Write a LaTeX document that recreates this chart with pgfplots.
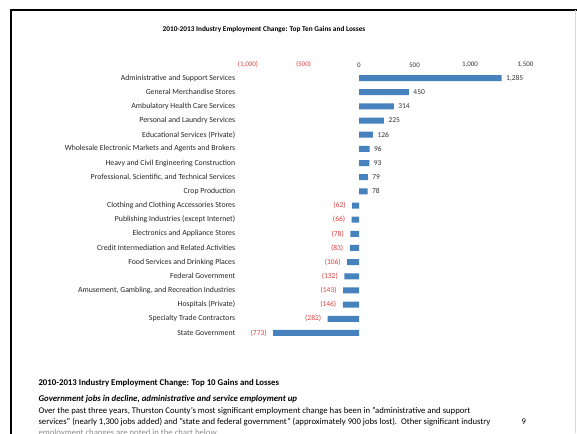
\documentclass[border=0pt]{standalone}
\usepackage{pgfplots}
\pgfplotsset{compat=1.18}
\usepackage{fontspec}
\setmainfont{Carlito}
\definecolor{barblue}{RGB}{70,130,190}
\definecolor{negred}{RGB}{222,64,64}
\begin{document}
\begin{tikzpicture}[x=1pt,y=1pt]
\clip (0,0) rectangle (577,433);
\fill[white] (0,0) rectangle (577,433);
\draw[line width=2pt] (11,-2) -- (11,423) -- (580,423);
\draw[black!15] (575,0) -- (575,423);
\node[font=\bfseries\fontsize{7.3}{8}\selectfont] at (264,403)
  {2010-2013 Industry Employment Change: Top Ten Gains and Losses};
\begin{axis}[
  at={(248pt,93pt)}, anchor=south west,
  scale only axis, width=277.5pt, height=269pt,
  xmin=-1000, xmax=1500, ymin=0.5, ymax=19.5,
  y dir=reverse,
  xbar, bar width=6pt, bar shift=0pt,
  axis line style={draw=none}, tick style={draw=none},
  xtick={-1000,-500,0,500,1000,1500},
  xticklabels={\textcolor{negred}{(1,000)},\textcolor{negred}{(500)},0,500,{1,000},{1,500}},
  xticklabel pos=right,
  xticklabel style={font=\fontsize{7}{8}\selectfont, text=black!80},
  ytick={1,...,19},
  yticklabels={
    Administrative and Support Services,
    General Merchandise Stores,
    Ambulatory Health Care Services,
    Personal and Laundry Services,
    Educational Services (Private),
    Wholesale Electronic Markets and Agents and Brokers,
    Heavy and Civil Engineering Construction,
    {Professional, Scientific, and Technical Services},
    Crop Production,
    Clothing and Clothing Accessories Stores,
    Publishing Industries (except Internet),
    Electronics and Appliance Stores,
    Credit Intermediation and Related Activities,
    Food Services and Drinking Places,
    Federal Government,
    {Amusement, Gambling, and Recreation Industries},
    Hospitals (Private),
    Specialty Trade Contractors,
    State Government},
  yticklabel style={font=\fontsize{7.8}{8}\selectfont, text=black!85, xshift=-5pt},
  point meta=explicit symbolic,
  nodes near coords,
]
\addplot[fill=barblue, draw=none,
  nodes near coords style={anchor=west, font=\fontsize{7.5}{8}\selectfont, text=black!80, xshift=1pt}]
  coordinates {
  (1285,1) [{1,285}]
  (450,2) [450]
  (314,3) [314]
  (225,4) [225]
  (126,5) [126]
  (96,6) [96]
  (93,7) [93]
  (79,8) [79]
  (78,9) [78]
};
\addplot[fill=barblue, draw=none,
  nodes near coords style={anchor=east, font=\fontsize{7.5}{8}\selectfont, text=negred, xshift=-3pt}]
  coordinates {
  (-62,10) [(62)]
  (-66,11) [(66)]
  (-78,12) [(78)]
  (-83,13) [(83)]
  (-106,14) [(106)]
  (-132,15) [(132)]
  (-143,16) [(143)]
  (-146,17) [(146)]
  (-282,18) [(282)]
  (-773,19) [(773)]
};
\end{axis}
\node[anchor=base west, font=\bfseries\fontsize{8.8}{9}\selectfont] at (35,47)
  {2010-2013 Industry Employment Change: Top 10 Gains and Losses};
\node[anchor=base west, font=\bfseries\itshape\fontsize{8.8}{9}\selectfont] at (35,32)
  {Government jobs in decline, administrative and service employment up};
\node[anchor=base west, font=\fontsize{8.7}{9}\selectfont] at (35,20)
  {Over the past three years, Thurston County's most significant employment change has been in "administrative and support};
\node[anchor=base west, font=\fontsize{8.7}{9}\selectfont] at (35,9)
  {services" (nearly 1,300 jobs added) and "state and federal government" (approximately 900 jobs lost).\ \ Other significant industry};
\node[anchor=base west, font=\fontsize{8.7}{9}\selectfont] at (518,9) {9};
\node[anchor=base west, font=\fontsize{8.7}{9}\selectfont, text=black!45] at (35,-2)
  {employment changes are noted in the chart below.};
\end{tikzpicture}
\end{document}
